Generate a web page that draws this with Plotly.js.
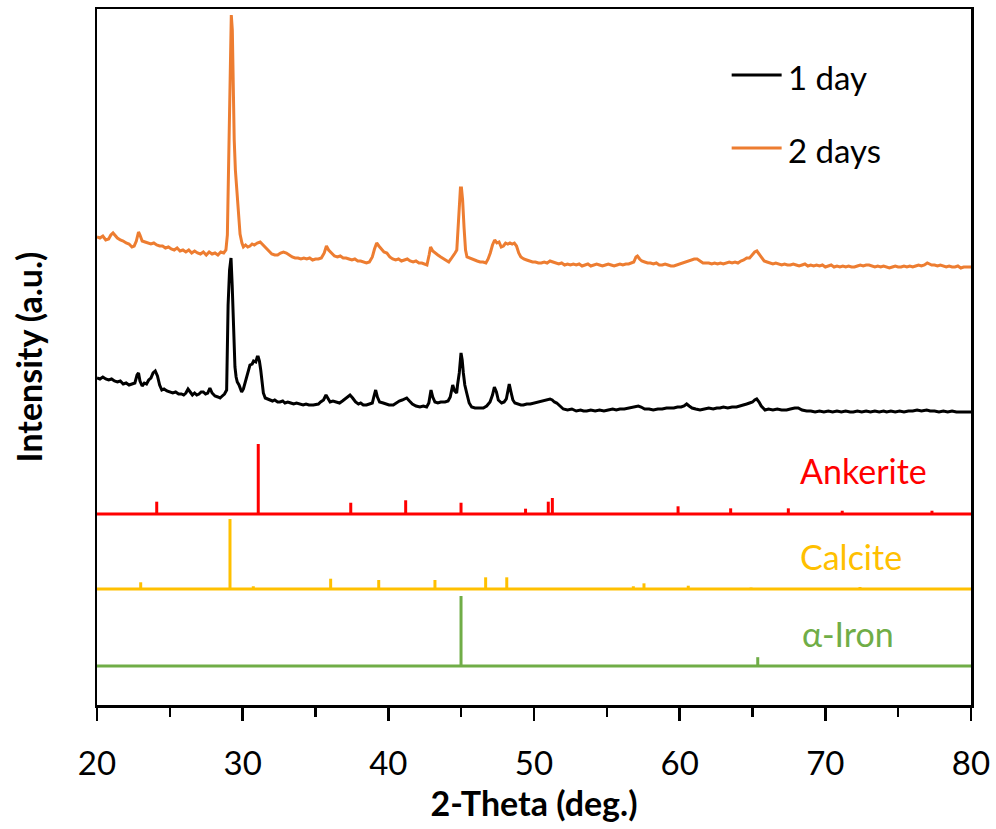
<!DOCTYPE html>
<html>
<head>
<meta charset="utf-8">
<script src="https://cdn.plot.ly/plotly-3.0.1.min.js"></script>
<style>html,body{margin:0;padding:0;background:#fff;}#chart{width:996px;height:829px;}</style>
</head>
<body>
<div id="chart"></div>
<script>
// ---- Measured pattern: 2 days (orange) ----
const day2X = [20.0,20.2,20.4,20.6,20.8,20.95,21.1,21.25,21.4,21.6,21.8,22.0,22.2,22.4,22.55,22.7,22.85,22.95,23.1,23.3,23.5,23.7,23.9,24.1,24.3,24.5,24.7,24.9,25.1,25.3,25.5,25.7,25.9,26.1,26.3,26.5,26.7,26.9,27.1,27.3,27.5,27.7,27.9,28.1,28.3,28.5,28.7,28.85,28.95,29.05,29.15,29.22,29.29,29.35,29.42,29.5,29.6,29.7,29.82,29.95,30.05,30.2,30.35,30.5,30.65,30.8,31.0,31.2,31.4,31.6,31.8,32.0,32.2,32.4,32.6,32.8,33.0,33.2,33.4,33.6,33.8,34.0,34.2,34.4,34.6,34.8,35.0,35.2,35.4,35.6,35.75,35.9,36.1,36.3,36.5,36.7,36.9,37.1,37.3,37.5,37.7,37.9,38.1,38.3,38.5,38.7,38.9,39.05,39.2,39.35,39.5,39.7,39.9,40.1,40.3,40.5,40.7,40.9,41.1,41.3,41.5,41.7,41.9,42.1,42.3,42.5,42.65,42.8,42.9,43.05,43.2,43.4,43.6,43.8,44.0,44.15,44.3,44.45,44.58,44.7,44.78,44.87,44.95,45.02,45.1,45.2,45.3,45.4,45.55,45.7,45.9,46.1,46.3,46.5,46.7,46.85,47.0,47.15,47.3,47.45,47.6,47.75,47.9,48.05,48.2,48.35,48.5,48.65,48.8,48.95,49.1,49.3,49.5,49.7,49.9,50.1,50.3,50.5,50.7,50.9,51.1,51.3,51.5,51.7,51.9,52.1,52.3,52.5,52.7,52.9,53.1,53.3,53.5,53.7,53.9,54.1,54.3,54.5,54.7,54.9,55.1,55.3,55.5,55.7,55.9,56.1,56.3,56.5,56.7,56.85,57.0,57.1,57.25,57.4,57.6,57.8,58.0,58.2,58.4,58.6,58.8,59.0,59.2,59.4,59.6,59.8,60.0,60.2,60.4,60.6,60.8,61.0,61.2,61.4,61.6,61.8,62.0,62.2,62.4,62.6,62.8,63.0,63.2,63.4,63.6,63.8,64.0,64.2,64.4,64.6,64.8,65.0,65.15,65.3,65.45,65.6,65.8,66.0,66.2,66.4,66.6,66.8,67.0,67.2,67.4,67.6,67.8,68.0,68.2,68.4,68.6,68.8,69.0,69.2,69.4,69.6,69.8,70.0,70.2,70.4,70.6,70.8,71.0,71.2,71.4,71.6,71.8,72.0,72.2,72.4,72.6,72.8,73.0,73.2,73.4,73.6,73.8,74.0,74.2,74.4,74.6,74.8,75.0,75.2,75.4,75.6,75.8,76.0,76.2,76.4,76.6,76.8,77.0,77.15,77.3,77.5,77.7,77.9,78.1,78.3,78.5,78.7,78.9,79.1,79.3,79.5,79.7,80.0];
const day2Y = [468,467,469,465,466,470,472,469,467,465,464,462,461,458,459,464,473,470,464,463,462,461,462,460,459,459,457,458,456,455,457,454,455,453,455,452,454,452,451,453,450,453,451,452,450,453,452,455,470,560,672,690,675,620,565,535,512,488,471,462,458,460,458,459,461,460,462,463,460,456,453,451,450,450,452,453,452,450,448,447,447,446,447,446,447,445,446,446,447,452,459,455,452,449,448,449,447,447,446,445,446,444,444,443,442,443,448,456,462,459,456,453,452,448,446,445,446,444,445,446,444,443,444,442,442,441,440,450,458,454,452,450,448,446,444,443,446,450,452,455,475,505,517,517,505,477,455,448,447,446,445,444,443,443,442,446,452,460,465,462,463,458,459,462,461,462,461,462,459,452,448,446,445,444,443,443,442,442,443,442,444,443,442,441,442,440,441,440,441,440,441,439,440,441,439,440,441,440,439,440,441,440,439,440,441,440,441,441,442,443,448,449,446,444,443,442,442,441,442,440,440,441,440,439,439,440,441,442,443,444,445,446,446,444,442,442,442,441,442,441,442,441,442,443,442,443,442,444,445,447,447,450,453,454,451,447,444,443,442,441,442,441,440,441,440,440,441,440,439,440,441,439,440,439,440,439,440,438,439,440,438,439,438,439,438,439,438,438,439,440,439,440,440,439,438,439,438,439,438,437,438,439,438,438,439,438,439,438,439,440,439,440,442,441,440,440,439,440,439,438,439,438,438,439,437,438,438,438];

// ---- Measured pattern: 1 day (black) ----
const day1X = [20.0,20.2,20.4,20.6,20.8,21.0,21.2,21.4,21.6,21.8,22.0,22.2,22.4,22.6,22.75,22.85,22.95,23.1,23.25,23.4,23.55,23.7,23.85,24.0,24.15,24.3,24.45,24.6,24.8,25.0,25.2,25.4,25.6,25.8,25.95,26.1,26.25,26.4,26.55,26.7,26.85,27.0,27.15,27.3,27.45,27.6,27.75,27.9,28.1,28.3,28.45,28.6,28.75,28.9,29.0,29.1,29.2,29.28,29.36,29.47,29.55,29.63,29.75,29.85,29.93,30.05,30.15,30.28,30.4,30.5,30.65,30.75,30.9,31.0,31.07,31.15,31.24,31.32,31.42,31.55,31.7,31.88,32.05,32.2,32.4,32.56,32.75,32.9,33.1,33.3,33.5,33.7,33.94,34.15,34.35,34.55,34.85,35.05,35.2,35.35,35.55,35.72,35.85,36.0,36.2,36.46,36.65,36.85,37.05,37.2,37.37,37.55,37.75,37.95,38.1,38.28,38.5,38.7,38.9,39.0,39.13,39.25,39.4,39.65,39.85,40.05,40.34,40.55,40.75,40.95,41.1,41.26,41.45,41.65,41.9,42.17,42.4,42.63,42.78,42.93,43.05,43.2,43.4,43.6,43.89,44.1,44.25,44.42,44.55,44.69,44.75,44.87,44.99,45.07,45.15,45.25,45.38,45.55,45.72,45.95,46.2,46.52,46.75,46.98,47.15,47.28,47.42,47.55,47.78,47.95,48.1,48.2,48.3,48.42,48.55,48.69,48.9,49.1,49.27,49.5,49.75,50.0,50.18,50.4,50.6,50.8,51.0,51.1,51.25,51.4,51.56,51.75,52.01,52.3,52.6,52.9,53.2,53.4,53.62,53.9,54.2,54.5,54.8,55.1,55.4,55.65,55.9,56.2,56.5,56.8,57.0,57.16,57.35,57.6,57.9,58.19,58.5,58.8,59.1,59.34,59.6,59.85,60.1,60.3,60.48,60.65,60.85,61.1,61.4,61.7,62.0,62.3,62.55,62.77,63.0,63.3,63.6,63.9,64.2,64.45,64.6,64.8,65.0,65.15,65.29,65.45,65.6,65.86,66.1,66.4,66.7,67.0,67.34,67.6,67.9,68.14,68.4,68.72,69.0,69.3,69.6,69.9,70.2,70.5,70.8,71.1,71.4,71.7,71.92,72.2,72.5,72.8,73.1,73.4,73.7,74.0,74.21,74.5,74.8,75.1,75.4,75.7,76.0,76.3,76.6,76.96,77.2,77.5,77.8,78.1,78.4,78.7,79.0,79.3,79.6,80.0];
const day1Y = [327,326,328,326,325,326,324,323,324,321,322,320,321,322,330,332,324,319,322,321,325,327,332,334,329,320,315,316,314,313,312,313,311,311,310,312,316,313,310,312,310,311,313,313,311,312,317,312,309,308,307,309,311,315,400,435,447,420,388,338,328,323,320,316,313,316,322,328,336,340,341,344,343,348,348,344,335,322,312,307,306,305,304,305,303,303,304,302,303,302,301,302,301,300,301,300,300,301,301,303,305,310,306,303,304,303,302,304,306,308,310,307,303,301,302,300,300,301,302,308,315,308,303,302,301,300,300,302,304,305,306,307,304,301,299,298,299,298,302,315,308,303,302,303,303,304,308,320,314,312,320,332,352,345,332,320,312,302,298,297,297,297,299,303,310,318,313,305,302,303,306,313,321,313,305,302,301,300,300,301,301,302,302,303,304,305,306,306,305,303,302,299,296,295,296,294,295,294,294,295,294,295,294,295,296,295,296,296,297,298,298,299,298,296,296,295,296,296,297,297,297,298,298,299,301,299,297,296,295,296,297,296,297,297,298,297,298,298,299,300,301,302,303,305,306,303,299,295,296,295,296,295,295,296,297,297,295,294,294,293,294,293,294,293,294,293,294,293,293,294,293,294,293,294,293,294,293,294,293,294,293,294,294,295,294,295,294,294,293,294,293,294,293,293,293,293];

// ---- Reference patterns (peak position, relative intensity %) ----
const ankeritePos = [24.10,31.07,37.42,41.19,44.99,49.42,50.98,51.26,59.89,63.50,67.46,71.16,77.32];
const ankeriteInt = [17.6,100,16.1,19.6,16.1,7.6,17.6,22.9,11.0,8.1,8.1,4.7,4.7];
const calcitePos = [23.00,29.13,30.73,36.04,39.34,43.20,46.68,48.13,56.82,57.55,60.59,64.90,72.38];
const calciteInt = [9.6,100,3.9,14.7,12.9,12.9,16.7,16.7,3.9,8.1,4.7,2.1,2.9];
const ironPos = [44.99,65.36];
const ironInt = [100,12.6];

const seriesNames = ['1 day','2 days'];
const phaseNames = ['Ankerite','Calcite','\u03b1-Iron'];
const xTickVals = [20,30,40,50,60,70,80];

const FONT = 'Lato, "Open Sans", "DejaVu Sans", sans-serif';
const C_ORANGE = '#ED7D31', C_RED = '#FF0000', C_GOLD = '#FFC000', C_GREEN = '#70AD47';

// stacking offsets & scale for the stick patterns
const phaseBase = [191, 116, 39];
const stickScale = 0.7;

function stickTrace(pos, inten, base, color, name) {
  const x = [20, 80, null], y = [base, base, null];
  pos.forEach((p, i) => { x.push(p, p, null); y.push(base, base + inten[i] * stickScale, null); });
  return {x, y, mode: 'lines', type: 'scatter', name, showlegend: false,
    line: {color, width: 3}, connectgaps: false, hoverinfo: 'skip'};
}

const traces = [
  stickTrace(ironPos, ironInt, phaseBase[2], C_GREEN, phaseNames[2]),
  stickTrace(calcitePos, calciteInt, phaseBase[1], C_GOLD, phaseNames[1]),
  stickTrace(ankeritePos, ankeriteInt, phaseBase[0], C_RED, phaseNames[0]),
  {x: day1X, y: day1Y, type: 'scatter', mode: 'lines', name: seriesNames[0],
   line: {color: '#000000', width: 3}, showlegend: false},
  {x: day2X, y: day2Y, type: 'scatter', mode: 'lines', name: seriesNames[1],
   line: {color: C_ORANGE, width: 3}, showlegend: false}
];

const layout = {
  width: 996, height: 829,
  margin: {l: 97, r: 25, t: 9, b: 124, pad: 0},
  paper_bgcolor: '#fff', plot_bgcolor: '#fff',
  font: {family: FONT, color: '#000'},
  showlegend: false,
  xaxis: {
    range: [20, 80], tickvals: xTickVals, ticktext: xTickVals.map(String),
    ticks: 'outside', ticklen: 13, tickwidth: 2.5, tickcolor: '#000',
    ticklabelstandoff: 15,
    minor: {dtick: 5, tick0: 20, ticks: 'outside', ticklen: 9, tickwidth: 2.5, tickcolor: '#000', showgrid: false},
    showline: true, linewidth: 2.5, linecolor: '#000', mirror: true,
    showgrid: false, zeroline: false,
    tickfont: {family: FONT, size: 33, color: '#000'},
    title: {text: '<b>2-Theta (deg.)</b>', font: {family: FONT, size: 34, color: '#000'}, standoff: 10}
  },
  yaxis: {
    range: [0, 696], showticklabels: false, ticks: '',
    showline: true, linewidth: 2.5, linecolor: '#000', mirror: true,
    showgrid: false, zeroline: false,
    title: {text: '<b>Intensity (a.u.)</b>', font: {family: FONT, size: 34, color: '#000'}, standoff: 42}
  },
  shapes: [
    {type: 'line', xref: 'x', yref: 'y', x0: 63.57, x1: 67.0, y0: 630, y1: 630, line: {color: '#000', width: 3}},
    {type: 'line', xref: 'x', yref: 'y', x0: 63.57, x1: 67.0, y0: 557, y1: 557, line: {color: C_ORANGE, width: 3}}
  ],
  annotations: [
    {x: 67.3, y: 628, xref: 'x', yref: 'y', text: seriesNames[0], showarrow: false, xanchor: 'left', yanchor: 'middle', font: {family: FONT, size: 33, color: '#000'}},
    {x: 67.3, y: 555, xref: 'x', yref: 'y', text: seriesNames[1], showarrow: false, xanchor: 'left', yanchor: 'middle', font: {family: FONT, size: 33, color: '#000'}},
    {x: 68.1, y: 235, xref: 'x', yref: 'y', text: phaseNames[0], showarrow: false, xanchor: 'left', yanchor: 'middle', font: {family: FONT, size: 34, color: C_RED}},
    {x: 68.1, y: 149, xref: 'x', yref: 'y', text: phaseNames[1], showarrow: false, xanchor: 'left', yanchor: 'middle', font: {family: FONT, size: 34, color: C_GOLD}},
    {x: 68.25, y: 72, xref: 'x', yref: 'y', text: phaseNames[2], showarrow: false, xanchor: 'left', yanchor: 'middle', font: {family: FONT, size: 34, color: C_GREEN}}
  ]
};

Plotly.newPlot('chart', traces, layout, {staticPlot: true, displayModeBar: false});
</script>
</body>
</html>
